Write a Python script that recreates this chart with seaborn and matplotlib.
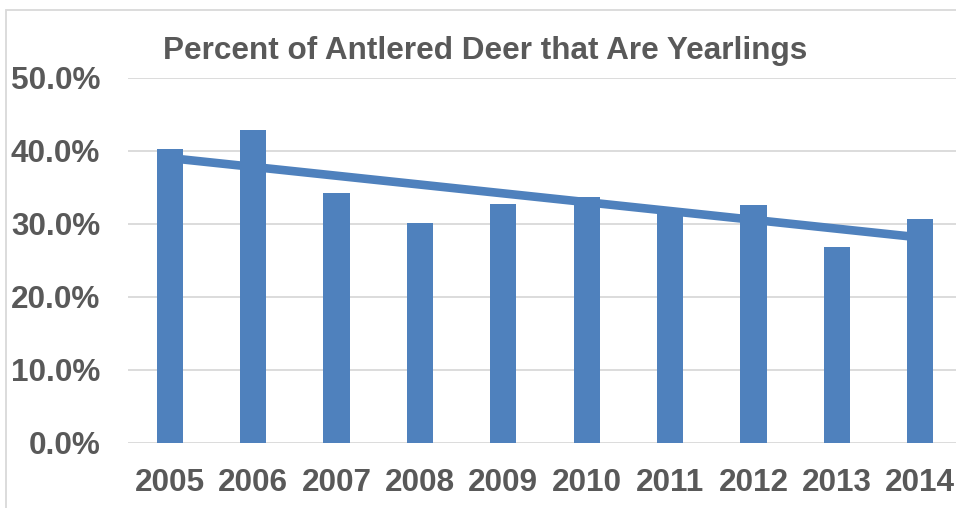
import matplotlib
matplotlib.use("Agg")
import matplotlib.pyplot as plt
import seaborn as sns
import numpy as np
import pandas as pd
from matplotlib.patches import Rectangle
from matplotlib.ticker import FuncFormatter, MultipleLocator

years = ["2005", "2006", "2007", "2008", "2009", "2010", "2011", "2012", "2013", "2014"]
pct_yearlings = [40.2, 42.8, 34.2, 30.1, 32.7, 33.6, 31.8, 32.6, 26.8, 30.7]
title = "Percent of Antlered Deer that Are Yearlings"

BLUE = "#4F81BD"
GRAY_TXT = "#595959"
GRID = "#D9D9D9"

sns.set_theme(style="white")
plt.rcParams["font.family"] = ["Liberation Sans", "DejaVu Sans"]

df = pd.DataFrame({"year": years, "pct": pct_yearlings})

fig = plt.figure(figsize=(9.56, 5.08), dpi=100)
ax = fig.add_axes([128 / 956, 65.3 / 508, (962 - 128) / 956, (442.7 - 77.7) / 508])

sns.barplot(data=df, x="year", y="pct", color=BLUE, saturation=1, width=0.312, ax=ax,
            zorder=3, linewidth=0, edgecolor=BLUE)
sns.regplot(x=np.arange(len(years)), y=np.array(pct_yearlings), ci=None, scatter=False,
            truncate=True, color=BLUE, line_kws={"lw": 6.2, "solid_capstyle": "butt", "zorder": 2}, ax=ax)

ax.set_xlim(-0.5, len(years) - 0.5)
ax.set_ylim(0, 50)
ax.yaxis.set_major_locator(MultipleLocator(10))
ax.yaxis.set_major_formatter(FuncFormatter(lambda v, p: f"{v:.1f}%"))
ax.set_xlabel("")
ax.set_ylabel("")
ax.grid(axis="y", color=GRID, lw=1.3, zorder=0)
ax.grid(axis="x", visible=False)
ax.set_axisbelow(True)
for s in ax.spines.values():
    s.set_visible(False)
ax.tick_params(axis="both", length=0, labelsize=22.7, labelcolor=GRAY_TXT)
ax.tick_params(axis="y", pad=20)
ax.tick_params(axis="x", pad=18)
for lab in ax.get_xticklabels() + ax.get_yticklabels():
    lab.set_fontweight("bold")

fig.text(485 / 956, 1 - 59.3 / 508, title, ha="center", va="baseline",
         fontsize=22.7, fontweight="bold", color=GRAY_TXT)

fig.patches.append(Rectangle((6 / 956, -0.1), 1.2, 1.1 - 10 / 508, transform=fig.transFigure,
                             fill=False, edgecolor=GRID, lw=1.3))

fig.savefig("out.png", dpi=100)
